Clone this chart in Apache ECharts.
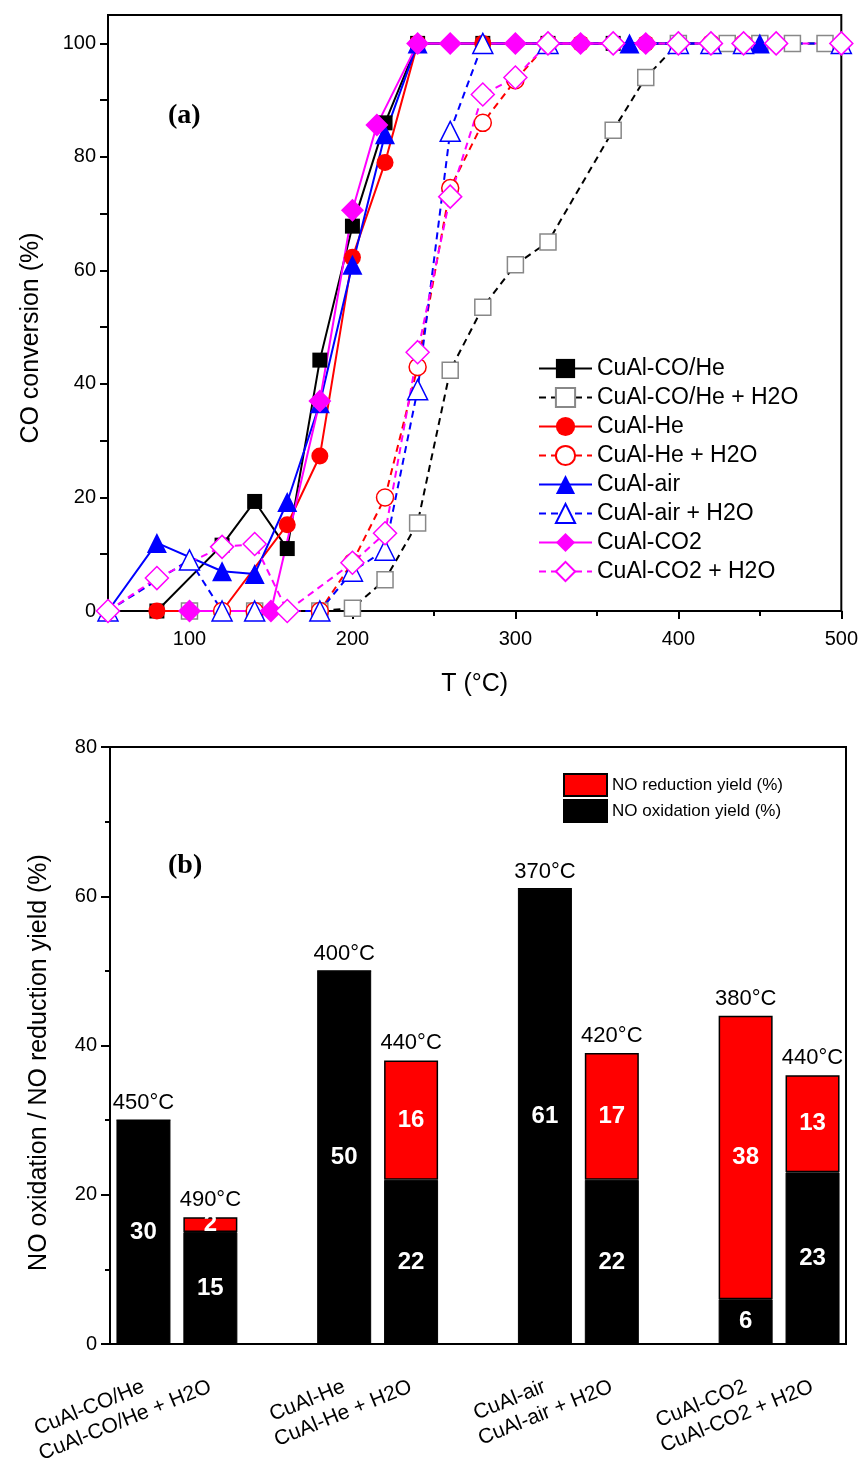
<!DOCTYPE html>
<html><head><meta charset="utf-8">
<script src="https://cdn.jsdelivr.net/npm/echarts@6/dist/echarts.min.js"></script>
<style>html,body{margin:0;padding:0;background:#fff}#c{width:861px;height:1466px}</style>
</head><body><div id="c"></div>
<script>
// ---------- Panel (a): CO conversion vs T ----------
const T_COHe = [80,120,140,160,180,200,220,240,280,320,360,400];
const C_COHe = [0,11.6,19.3,11,44.2,67.8,86,100,100,100,100,100];
const T_COHe_W = [100,140,180,200,220,240,260,280,300,320,360,380,400,430,450,470,490];
const C_COHe_W = [0,0,0,0.5,5.5,15.5,42.4,53.5,61,65,84.7,94,100,100,100,100,100];
const T_He = [80,120,160,180,200,220,240,280,340,380];
const C_He = [0,0,15.2,27.3,62.3,79,100,100,100,100];
const T_He_W = [120,140,180,200,220,240,260,280,300,320,420,440];
const C_He_W = [0,0,0,8.6,20,43,74.5,86,93.5,100,100,100];
const T_air = [50,80,120,140,160,180,200,220,240,370,450];
const C_air = [0,12,7,6.5,19.2,36.6,61,84,100,100,100];
const T_air_W = [50,100,120,140,180,200,220,240,260,280,320,400,420,440,500];
const C_air_W = [0,9,0,0,0,7,10.7,39,84.5,100,100,100,100,100,100];
const T_CO2 = [100,150,180,200,215,240,260,300,340,380];
const C_CO2 = [0,0,37,70.6,85.6,100,100,100,100,100];
const T_CO2_W = [50,80,120,140,160,200,220,240,260,280,300,320,360,400,420,440,460,500];
const C_CO2_W = [0,5.8,11.3,11.8,0,8.5,13.7,45.6,73,91,94,100,100,100,100,100,100,100];

const topXLabels = [100,200,300,400,500];
const topXMinor = [50,150,250,350,450];
const topYTicks = [0,10,20,30,40,50,60,70,80,90,100];
const topYLabels = [0,20,40,60,80,100];

// ---------- Panel (b): NO yields ----------
const cats = ['CuAl-CO/He','CuAl-CO/He + H2O',' ','CuAl-He','CuAl-He + H2O','  ','CuAl-air','CuAl-air + H2O','   ','CuAl-CO2','CuAl-CO2 + H2O'];
const oxYield = [30,15,'-',50,22,'-',61,22,'-',6,23];
const redYield = [0,2,'-',0,16,'-',0,17,'-',38,13];
const temps = ['450°C','490°C','','400°C','440°C','','370°C','420°C','','380°C','440°C'];

const SANS = "'Liberation Sans', Arial, sans-serif";

function zip(a,b){return a.map((v,i)=>[v,b[i]]);}
function lineSeries(name,T,C,symbol,size,color,filled,dashed,border){
  return {
    type:'line', name:name, xAxisIndex:0, yAxisIndex:0,
    data: zip(T,C), symbol:symbol, symbolSize:size,
    lineStyle:{color:color,width:2,type:dashed?[7,5]:'solid'},
    itemStyle: filled ? {color:color} : {color:'#fff',borderColor:border||color,borderWidth:1.5},
    emphasis:{disabled:true}, clip:true
  };
}

const chart = echarts.init(document.getElementById('c'), null, {renderer:'canvas'});
const axisLineStyle = {color:'#000',width:2};
const option = {
  animation:false,
  backgroundColor:'#fff',
  grid:[
    {left:108,right:18,top:15,bottom:855,show:true,borderColor:'#000',borderWidth:2,backgroundColor:'transparent'},
    {left:110,right:15,top:747,bottom:122,show:true,borderColor:'#000',borderWidth:2,backgroundColor:'transparent'}
  ],
  xAxis:[
    {type:'value',gridIndex:0,min:50,max:500,position:'bottom',
     axisLine:{lineStyle:axisLineStyle},
     axisTick:{customValues:topXLabels,length:8,lineStyle:{color:'#000',width:2}},
     axisLabel:{customValues:topXLabels,margin:18,fontSize:20,color:'#000',fontFamily:SANS},
     splitLine:{show:false},
     name:'T (°C)',nameLocation:'middle',nameGap:61,
     nameTextStyle:{fontSize:25,color:'#000',fontFamily:SANS}},
    {type:'value',gridIndex:0,min:50,max:500,position:'bottom',
     axisLine:{show:false},
     axisTick:{customValues:topXMinor,length:5,lineStyle:{color:'#000',width:2}},
     axisLabel:{show:false},splitLine:{show:false}},
    {type:'category',gridIndex:1,data:cats,
     axisLine:{lineStyle:axisLineStyle},
     axisTick:{alignWithLabel:true,length:9,lineStyle:{color:'#000',width:2}},
     axisLabel:{interval:0,rotate:22,margin:42,fontSize:21,color:'#000',fontFamily:SANS},
     splitLine:{show:false}}
  ],
  yAxis:[
    {type:'value',gridIndex:0,min:0,max:105,
     axisLine:{show:true,lineStyle:axisLineStyle},
     axisTick:{show:true,customValues:topYTicks,length:8,lineStyle:{color:'#000',width:2}},
     axisLabel:{customValues:topYLabels,margin:12,fontSize:20,color:'#000',fontFamily:SANS},
     splitLine:{show:false},
     name:'CO conversion (%)',nameLocation:'middle',nameGap:64,
     nameTextStyle:{fontSize:25,color:'#000',fontFamily:SANS,padding:[0,50,0,0]}},
    {type:'value',gridIndex:1,min:0,max:80,interval:20,
     axisLine:{show:true,lineStyle:axisLineStyle},
     axisTick:{show:true,length:9,lineStyle:{color:'#000',width:2}},
     minorTick:{show:true,splitNumber:2,length:5,lineStyle:{color:'#000',width:2}},
     axisLabel:{margin:13,fontSize:20,color:'#000',fontFamily:SANS},
     splitLine:{show:false},
     name:'NO oxidation / NO reduction yield (%)',nameLocation:'middle',nameGap:58,
     nameTextStyle:{fontSize:25,color:'#000',fontFamily:SANS,padding:[0,34,0,0]}}
  ],
  legend:[
    {left:533,top:352,orient:'vertical',itemWidth:53,itemHeight:24,itemGap:6,
     selectedMode:false,
     textStyle:{fontSize:23,color:'#000',fontFamily:SANS},
     data:['CuAl-CO/He','CuAl-CO/He + H2O','CuAl-He','CuAl-He + H2O','CuAl-air','CuAl-air + H2O','CuAl-CO2','CuAl-CO2 + H2O']},
    {left:558,top:768,orient:'vertical',itemWidth:43,itemHeight:22,itemGap:2,
     selectedMode:false,icon:'rect',
     textStyle:{fontSize:17,color:'#000',fontFamily:SANS},
     data:['NO reduction yield (%)','NO oxidation yield (%)']}
  ],
  graphic:[
    {type:'text',left:168,top:102,style:{text:'(a)',font:"bold 28px 'Liberation Serif', 'Times New Roman', serif",fill:'#000'}},
    {type:'text',left:168,top:852,style:{text:'(b)',font:"bold 28px 'Liberation Serif', 'Times New Roman', serif",fill:'#000'}}
  ],
  series:[
    lineSeries('CuAl-CO/He',T_COHe,C_COHe,'rect',15,'#000',true,false),
    lineSeries('CuAl-CO/He + H2O',T_COHe_W,C_COHe_W,'rect',16,'#000',false,true,'#888'),
    lineSeries('CuAl-He',T_He,C_He,'circle',17,'#ff0000',true,false),
    lineSeries('CuAl-He + H2O',T_He_W,C_He_W,'circle',17,'#ff0000',false,true),
    lineSeries('CuAl-air',T_air,C_air,'triangle',20,'#0000ff',true,false),
    lineSeries('CuAl-air + H2O',T_air_W,C_air_W,'triangle',20,'#0000ff',false,true),
    lineSeries('CuAl-CO2',T_CO2,C_CO2,'diamond',23,'#ff00ff',true,false),
    lineSeries('CuAl-CO2 + H2O',T_CO2_W,C_CO2_W,'diamond',23,'#ff00ff',false,true),
    {type:'bar',name:'NO oxidation yield (%)',xAxisIndex:2,yAxisIndex:1,stack:'s',data:oxYield,barWidth:54,
     itemStyle:{color:'#000',borderColor:'#000',borderWidth:1},
     label:{show:true,position:'inside',color:'#fff',fontWeight:'bold',fontSize:24,fontFamily:SANS},
     emphasis:{disabled:true}},
    {type:'bar',name:'NO reduction yield (%)',xAxisIndex:2,yAxisIndex:1,stack:'s',data:redYield,barWidth:54,
     itemStyle:{color:'#ff0000',borderColor:'#000',borderWidth:1.5},
     label:{show:true,position:'inside',color:'#fff',fontWeight:'bold',fontSize:24,fontFamily:SANS,
            formatter:p=>(p.value>0?String(p.value):'')},
     emphasis:{disabled:true}},
    {type:'bar',name:'temp',xAxisIndex:2,yAxisIndex:1,stack:'s',data:temps.map(t=>t?0:'-'),barWidth:54,
     itemStyle:{color:'transparent',borderWidth:0},
     label:{show:true,position:'top',distance:6,color:'#000',fontSize:22,fontFamily:SANS,
            formatter:p=>temps[p.dataIndex]},
     emphasis:{disabled:true},silent:true}
  ]
};
chart.setOption(option);
</script>
</body></html>
